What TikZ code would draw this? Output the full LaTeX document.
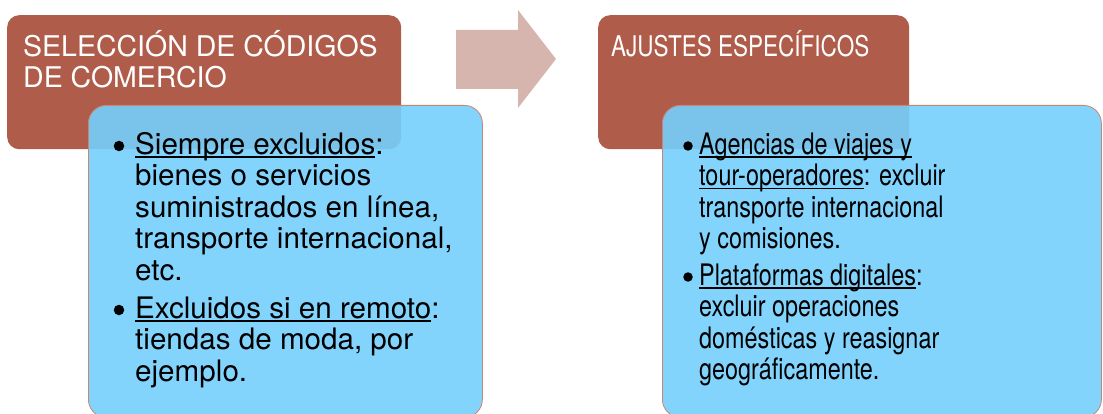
\documentclass[tikz,border=0pt]{standalone}
\usepackage{fontspec}
\setmainfont{TeX Gyre Heros}
\newfontfamily\narrowfont[FakeStretch=0.79]{TeX Gyre Heros}
\definecolor{redc}{HTML}{B05C4A}
\definecolor{bluec}{HTML}{75CFFD}
\definecolor{arrowc}{HTML}{D7B5AF}
\definecolor{borderc}{HTML}{C98573}
\newcommand\ulin[1]{\sbox0{#1}\rlap{\rule[-3.6pt]{\wd0}{1.2pt}}\usebox0}
\tikzset{
  titlebox/.style={fill=redc, rounded corners=12pt, inner sep=0pt, anchor=north west},
  bodybox/.style={fill=bluec, fill opacity=0.9, draw=borderc, line width=0.8pt, rounded corners=18pt, inner sep=0pt, anchor=north west},
  titletext/.style={anchor=base west, inner sep=0pt, text=white, font=\fontsize{28.5}{31}\selectfont, align=left},
  bodytext/.style={anchor=base west, inner sep=0pt, text=black, font=\fontsize{29.6}{31.5}\selectfont, align=left},
  bul/.style={circle, fill=black, inner sep=0pt, minimum size=10.5pt},
  bigarrow/.style={fill=arrowc, draw=none}
}
\begin{document}
\begin{tikzpicture}[x=1pt,y=-1pt]
\useasboundingbox (0,0) rectangle (1103,414);
% left column
\node[titlebox, minimum width=394pt, minimum height=134pt] (t1) at (7,15) {};
\node[bodybox, minimum width=394pt, minimum height=312pt] (b1) at (88,105) {};
% base anchor of a multi-line node = baseline of its last line
\node[titletext] (t1txt) at (23,88) {SELECCIÓN DE CÓDIGOS\\DE COMERCIO};
\node[bul] (b1a) at (119,146) {};
\node[bodytext] (b1atxt) at (135,280) {\ulin{Siempre excluidos}:\\bienes o servicios\\suministrados en línea,\\transporte internacional,\\etc.};
\node[bul] (b1b) at (119,310) {};
\node[bodytext] (b1btxt) at (135,381) {\ulin{Excluidos si en remoto}:\\tiendas de moda, por\\ejemplo.};
% arrow
\fill[bigarrow] (456,30) -- (518,30) -- (518,10) -- (556,59) -- (518,108) -- (518,89) -- (456,89) -- cycle;
% right column
\node[titlebox, minimum width=311pt, minimum height=134pt] (t2) at (598,15) {};
\node[bodybox, minimum width=439pt, minimum height=312pt] (b2) at (662,105) {};
\node[titletext, font=\fontsize{28.5}{31}\narrowfont] (t2txt) at (611,57) {AJUSTES ESPECÍFICOS};
\node[bul, minimum size=9.5pt] (b2a) at (688,146) {};
\node[bodytext, font=\fontsize{29.6}{31.5}\narrowfont] (b2atxt) at (699,248.5) {\ulin{Agencias de viajes y}\\\ulin{tour-operadores}: excluir\\transporte internacional\\y comisiones.};
\node[bul, minimum size=9.5pt] (b2b) at (688,277) {};
\node[bodytext, font=\fontsize{29.6}{31.5}\narrowfont] (b2btxt) at (699,379.5) {\ulin{Plataformas digitales}:\\excluir operaciones\\domésticas y reasignar\\geográficamente.};
\end{tikzpicture}
\end{document}
